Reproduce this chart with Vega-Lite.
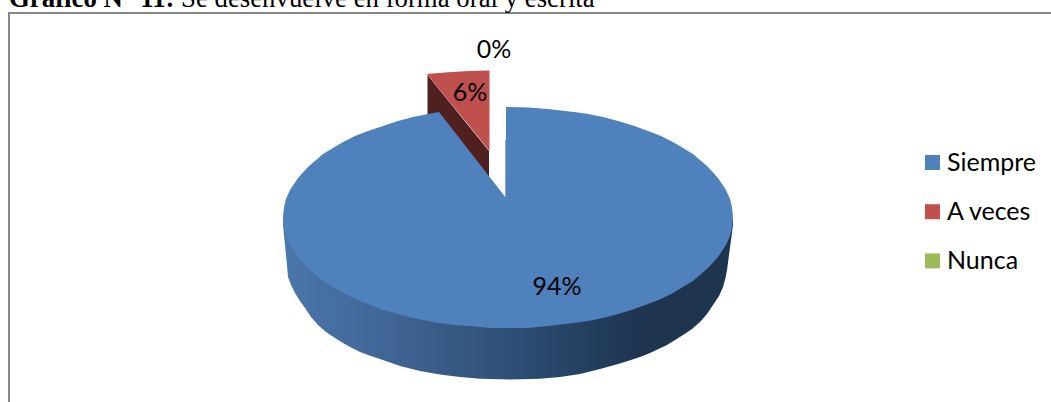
{
"$schema":"https://vega.github.io/schema/vega-lite/v6.json",
"width":1051,"height":402,"padding":0,"autosize":"none",
"background":"white",
"config":{"view":{"stroke":null}},
"datasets":{
"wall":[{"x":283,"y":225,"y2":220},{"x":285,"y":245,"y2":220},{"x":287,"y":265,"y2":220},{"x":288,"y":277,"y2":220},{"x":291,"y":285,"y2":220},{"x":295,"y":293,"y2":220},{"x":300,"y":301,"y2":220},{"x":305,"y":308,"y2":220},{"x":311,"y":317,"y2":220},{"x":318,"y":325,"y2":220},{"x":326,"y":332,"y2":220},{"x":335,"y":338,"y2":220},{"x":343,"y":343,"y2":220},{"x":352,"y":348,"y2":220},{"x":360,"y":352,"y2":220},{"x":368,"y":355,"y2":220},{"x":380,"y":359,"y2":220},{"x":400,"y":366,"y2":220},{"x":420,"y":371,"y2":220},{"x":440,"y":374.5,"y2":220},{"x":460,"y":377,"y2":220},{"x":480,"y":378.7,"y2":220},{"x":510,"y":379.5,"y2":220},{"x":540,"y":378.7,"y2":220},{"x":560,"y":377,"y2":220},{"x":580,"y":374,"y2":220},{"x":600,"y":369,"y2":220},{"x":620,"y":363.5,"y2":220},{"x":640,"y":357,"y2":220},{"x":650,"y":353,"y2":220},{"x":667,"y":345,"y2":220},{"x":683,"y":335,"y2":220},{"x":692,"y":329,"y2":220},{"x":700,"y":322,"y2":220},{"x":707,"y":314,"y2":220},{"x":713,"y":305,"y2":220},{"x":719,"y":296,"y2":220},{"x":723,"y":287,"y2":220},{"x":725.5,"y":278,"y2":220},{"x":727,"y":270,"y2":220},{"x":729,"y":255,"y2":220},{"x":731,"y":240,"y2":220},{"x":733,"y":225,"y2":220}],
"redwall":[{"x":427.5,"y":75,"y2":116},{"x":440,"y":90.5,"y2":116},{"x":489,"y":151,"y2":178}],
"slices":[
{"serie":"Siempre","x":283,"y":217,"y2":218},{"serie":"Siempre","x":284,"y":207,"y2":228},{"serie":"Siempre","x":286,"y":199,"y2":236},{"serie":"Siempre","x":290,"y":190,"y2":245},{"serie":"Siempre","x":298,"y":178,"y2":257},{"serie":"Siempre","x":308,"y":167,"y2":268},{"serie":"Siempre","x":323,"y":154,"y2":281},{"serie":"Siempre","x":333,"y":148,"y2":287},{"serie":"Siempre","x":343,"y":142,"y2":293},{"serie":"Siempre","x":355,"y":136,"y2":299},{"serie":"Siempre","x":368,"y":131,"y2":304},{"serie":"Siempre","x":383,"y":126,"y2":310},{"serie":"Siempre","x":398,"y":121,"y2":314},{"serie":"Siempre","x":413,"y":117,"y2":318},{"serie":"Siempre","x":428,"y":114,"y2":321},{"serie":"Siempre","x":439,"y":112,"y2":323},{"serie":"Siempre","x":455,"y":132.5,"y2":325},{"serie":"Siempre","x":470,"y":151.8,"y2":326},{"serie":"Siempre","x":490,"y":177.5,"y2":328},{"serie":"Siempre","x":506,"y":198,"y2":328},{"serie":"Siempre","x":506.01,"y":107,"y2":328},{"serie":"Siempre","x":528,"y":107.4,"y2":328},{"serie":"Siempre","x":548,"y":109,"y2":326},{"serie":"Siempre","x":578,"y":112.5,"y2":322.5},{"serie":"Siempre","x":588,"y":114,"y2":321},{"serie":"Siempre","x":603,"y":117,"y2":318},{"serie":"Siempre","x":618,"y":121,"y2":314},{"serie":"Siempre","x":633,"y":125.5,"y2":309.5},{"serie":"Siempre","x":648,"y":131,"y2":304},{"serie":"Siempre","x":661,"y":136,"y2":299},{"serie":"Siempre","x":673,"y":142,"y2":293},{"serie":"Siempre","x":683,"y":148,"y2":287},{"serie":"Siempre","x":693,"y":154,"y2":281},{"serie":"Siempre","x":708,"y":167,"y2":268},{"serie":"Siempre","x":718,"y":178,"y2":257},{"serie":"Siempre","x":726,"y":190,"y2":245},{"serie":"Siempre","x":730,"y":199,"y2":236},{"serie":"Siempre","x":732,"y":207,"y2":228},{"serie":"Siempre","x":733,"y":218,"y2":219},
{"serie":"A veces","x":427,"y":74,"y2":74},{"serie":"A veces","x":448,"y":72.3,"y2":100},{"serie":"A veces","x":469,"y":71,"y2":125.5},{"serie":"A veces","x":489.5,"y":70.5,"y2":151},
{"serie":"Nunca","x":506,"y":107,"y2":107}
],
"labels":[{"label":"94%","x":557,"y":287},{"label":"6%","x":470,"y":93},{"label":"0%","x":494,"y":50}]
},
"encoding":{
"x":{"field":"x","type":"quantitative","scale":{"domain":[0,1051],"nice":false,"zero":false},"axis":null},
"y":{"field":"y","type":"quantitative","scale":{"domain":[0,402],"reverse":true,"nice":false,"zero":false},"axis":null,"stack":null}
},
"layer":[
{"data":{"values":[{"x":9,"x2":1070,"y":13,"y2":430}]},
 "mark":{"type":"rect","filled":false,"stroke":"#868686","strokeWidth":2,"clip":false},
 "encoding":{"x2":{"field":"x2"},"y2":{"field":"y2"}}},
{"data":{"name":"wall"},
 "mark":{"type":"area","orient":"vertical","color":{"gradient":"linear","x1":0,"x2":1,"y1":0,"y2":0,"stops":[{"offset":0,"color":"#4A77AC"},{"offset":0.25,"color":"#3F6493"},{"offset":0.5,"color":"#2E4F76"},{"offset":0.8,"color":"#1E344F"},{"offset":1,"color":"#1E344F"}]}},
 "encoding":{"y2":{"field":"y2"}}},
{"data":{"name":"redwall"},
 "mark":{"type":"area","orient":"vertical","color":"#4F201F"},
 "encoding":{"y2":{"field":"y2"}}},
{"data":{"values":[{"x":506,"y":140,"y2":198}]},
 "mark":{"type":"rule","color":"#2B4A6E","strokeWidth":1},
 "encoding":{"y2":{"field":"y2"}}},
{"data":{"name":"slices"},
 "mark":{"type":"area","orient":"vertical"},
 "encoding":{"y2":{"field":"y2"},
  "color":{"field":"serie","type":"nominal","scale":{"domain":["Siempre","A veces","Nunca"],"range":["#4F81BD","#C0504D","#9BBB59"]},
   "legend":{"title":null,"orient":"none","legendX":920,"legendY":150,"symbolType":"square","symbolSize":225,"symbolStrokeWidth":0,"labelFont":"Lato","labelFontSize":25,"labelColor":"#000000","labelOffset":2,"rowPadding":23.2,"labelLimit":120}}}},
{"data":{"name":"labels"},
 "mark":{"type":"text","font":"Lato","fontSize":25,"color":"#000000","align":"center","baseline":"middle"},
 "encoding":{"text":{"field":"label"}}},
{"data":{"values":[{"x":9,"y":7,"t":"Gráfico N° 11:"}]},
 "mark":{"type":"text","font":"Liberation Serif","fontSize":26.8,"fontWeight":"bold","color":"#000000","align":"left","baseline":"alphabetic"},
 "encoding":{"text":{"field":"t"}}},
{"data":{"values":[{"x":181,"y":7,"t":"Se desenvuelve en forma oral y escrita"}]},
 "mark":{"type":"text","font":"Liberation Serif","fontSize":26.8,"color":"#000000","align":"left","baseline":"alphabetic"},
 "encoding":{"text":{"field":"t"}}}
]
}
